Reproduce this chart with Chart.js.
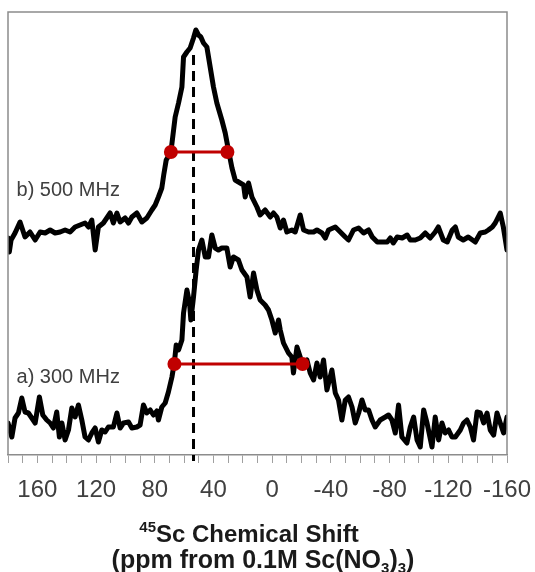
<!DOCTYPE html>
<html><head><meta charset="utf-8">
<script src="https://cdn.jsdelivr.net/npm/chart.js@4/dist/chart.umd.min.js"></script>
<style>html,body{margin:0;padding:0;background:#fff}#wrap{width:535px;height:572px}</style>
</head><body><div id="wrap"><canvas id="c" width="535" height="572"></canvas></div>
<script>
// b) 500 MHz spectrum
const ppm500 = [180,179.1,177.9,175.2,171.8,168.4,165.0,161.5,158.1,154.7,
151.3,147.9,144.5,141.1,137.7,134.3,130.9,127.5,125.2,122.9,
120.6,118.4,115.0,112.7,110.4,108.2,105.8,103.6,100.2,97.9,
95.6,92.2,88.8,85.4,82.0,79.7,77.5,75.2,73.9,72.2,
69.0,66.1,63.8,61.5,60.4,58.1,55.9,53.6,52.0,50.2,
48.6,46.8,44.5,42.7,40.0,37.7,34.3,32.0,29.8,27.4,
25.2,21.8,19.5,18.4,16.1,13.8,10.4,8.2,4.8,1.3,
-0.9,-3.2,-5.5,-7.7,-10.0,-13.4,-15.7,-19.1,-21.4,-24.8,
-28.2,-30.5,-33.9,-36.2,-38.4,-43.0,-46.4,-49.8,-52.0,-55.4,
-58.9,-62.3,-65.7,-68.2,-71.6,-75.0,-78.4,-80.5,-82.5,-85.2,
-88.6,-92.0,-94.1,-97.5,-100.9,-104.3,-107.7,-111.1,-113.2,-116.6,
-119.3,-122.7,-124.8,-126.8,-130.2,-133.6,-138.4,-141.8,-145.2,-147.3,
-150.0,-152.0,-155.4,-157.5,-160];
const int500 = [217,203,215,222,233,218,223,215,223,222,
225,222,223,225,223,228,230,232,228,235,
205,228,232,237,242,232,242,233,237,232,
238,242,233,237,245,250,258,267,280,295,
303,338,352,368,398,403,407,417,425,420,
418,412,408,392,368,352,335,322,305,287,
275,272,270,258,272,258,248,240,245,238,
242,238,227,235,223,225,223,240,225,223,
223,225,222,217,225,228,223,218,215,225,
227,222,225,218,213,213,213,217,212,218,
217,220,215,215,217,222,217,223,228,215,
213,225,228,218,215,218,213,222,223,225,
228,232,242,228,205];

// a) 300 MHz spectrum
const ppm300 = [180,177.4,175.2,172.9,170.6,168.4,166.1,163.8,161.5,158.6,
156.3,153.6,151.3,149.1,146.8,145.0,143.3,141.1,138.8,136.5,
134.3,132.0,129.7,127.5,125.2,122.9,120.6,118.4,116.1,113.8,
111.6,108.2,105.8,103.6,101.3,97.9,95.6,92.2,90.0,87.7,
85.4,83.1,80.9,78.6,77.5,75.2,72.9,70.7,68.3,66.6,
65.4,63.8,61.5,60.4,58.1,56.3,55.4,53.6,51.8,50.2,
47.9,45.6,43.4,41.1,38.8,36.6,34.3,30.9,28.6,26.4,
23.0,20.6,17.2,15.0,12.7,10.4,8.2,4.8,2.5,0.2,
-2.1,-4.3,-5.5,-7.7,-11.1,-13.4,-14.5,-16.9,-19.1,-20.7,
-23.7,-25.9,-28.2,-30.5,-32.7,-35.0,-37.3,-40.7,-43.0,-45.2,
-47.5,-49.8,-52.0,-54.4,-56.6,-58.9,-61.2,-63.4,-65.7,-68.0,
-70.2,-73.6,-77.1,-79.3,-81.6,-83.9,-86.1,-88.4,-91.8,-94.1,
-96.4,-98.7,-100.9,-103.2,-105.5,-108.9,-111.1,-113.4,-115.7,-117.9,
-120.2,-122.5,-124.8,-128.2,-130.4,-132.7,-135.0,-137.2,-139.6,-141.8,
-144.1,-146.4,-148.6,-150.9,-153.2,-155.4,-157.7,-160];
const int300 = [32,18,37,42,57,43,42,37,32,58,
40,35,32,27,43,18,32,15,25,47,
38,50,35,18,15,22,27,13,25,23,
28,28,42,27,32,33,27,28,30,50,
42,45,40,44,35,48,52,63,78,93,
110,105,115,142,165,152,135,158,185,205,
215,198,198,220,207,205,207,207,188,198,
195,185,178,158,182,165,155,150,145,135,
122,135,125,112,102,98,82,108,98,91,
95,82,75,92,78,95,65,85,62,55,
35,55,58,48,32,42,55,45,45,35,
28,35,38,40,35,22,50,18,12,28,
38,15,8,45,32,8,38,15,32,22,
25,18,18,25,32,35,28,15,43,42,
32,42,25,20,42,32,22,38];

// FWHM markers: [ppm left, ppm right], intensity level
const fwhm500 = [69.0, 30.5];
const fwhmLevel500 = 303;
const fwhm300 = [66.6, -20.7];
const fwhmLevel300 = 91;

// reference position (dashed line)
const refShift = 53.6;
const refSpan = [400, -6];

const xTickLabels = [160,120,80,40,0,-40,-80,-120,-160];
const seriesNames = ['b) 500 MHz', 'a) 300 MHz'];
const seriesNamePos = [[174.2, 259], [174.2, 72]];

const pts = (xs, ys) => xs.map((x, i) => ({x: x, y: ys[i]}));

const overlay = {
  id: 'overlay',
  afterDatasetsDraw(chart) {
    const ctx = chart.ctx, a = chart.chartArea;
    const sx = chart.scales.x, sy = chart.scales.y;
    ctx.save();
    ctx.strokeStyle = '#8c8c8c';
    ctx.lineWidth = 1.5;
    ctx.beginPath();
    ctx.moveTo(a.left, a.bottom); ctx.lineTo(a.left, a.top);
    ctx.lineTo(a.right, a.top); ctx.lineTo(a.right, a.bottom);
    ctx.stroke();
    ctx.fillStyle = '#404040';
    ctx.font = '20px "Liberation Sans", Arial, sans-serif';
    ctx.textAlign = 'left'; ctx.textBaseline = 'alphabetic';
    seriesNames.forEach((n, i) => {
      ctx.fillText(n, sx.getPixelForValue(seriesNamePos[i][0]), sy.getPixelForValue(seriesNamePos[i][1]));
    });
    ctx.restore();
  },
  afterDraw(chart) {
    const ctx = chart.ctx;
    ctx.save();
    ctx.fillStyle = '#1a1a1a';
    ctx.textBaseline = 'alphabetic';
    ctx.textAlign = 'left';
    const B = 'bold 24px "Liberation Sans", Arial, sans-serif';
    const B2 = 'bold 25px "Liberation Sans", Arial, sans-serif';
    const S = 'bold 15px "Liberation Sans", Arial, sans-serif';
    const drawRuns = (runs, cx, base) => {
      let tot = 0;
      runs.forEach(r => { ctx.font = r.f; r.w = ctx.measureText(r.t).width; tot += r.w; });
      let x = cx - tot / 2;
      runs.forEach(r => { ctx.font = r.f; ctx.fillText(r.t, x, base + (r.dy || 0)); x += r.w; });
    };
    drawRuns([{t:'45', f:S, dy:-10}, {t:'Sc Chemical Shift', f:B}], 249, 542);
    drawRuns([{t:'(ppm from 0.1M Sc(NO', f:B2}, {t:'3', f:S, dy:5}, {t:')', f:B2}, {t:'3', f:S, dy:5}, {t:')', f:B2}], 263, 568);
    ctx.restore();
  }
};

new Chart(document.getElementById('c'), {
  type: 'line',
  data: {
    datasets: [
      {data: pts(fwhm500, [fwhmLevel500, fwhmLevel500]), borderColor:'#c00000', backgroundColor:'#c00000', borderWidth:3, pointRadius:7, pointBorderWidth:0, order:0},
      {data: pts(fwhm300, [fwhmLevel300, fwhmLevel300]), borderColor:'#c00000', backgroundColor:'#c00000', borderWidth:3, pointRadius:7, pointBorderWidth:0, order:0},
      {data: pts([refShift, refShift], refSpan), borderColor:'#000', borderWidth:3, borderDash:[10,6], pointRadius:0, clip:false, order:1},
      {data: pts(ppm500, int500), borderColor:'#000', borderWidth:5, pointRadius:0, borderJoinStyle:'round', borderCapStyle:'round', order:2},
      {data: pts(ppm300, int300), borderColor:'#000', borderWidth:5, pointRadius:0, borderJoinStyle:'round', borderCapStyle:'round', order:2}
    ]
  },
  options: {
    responsive: false, animation: false, devicePixelRatio: 1,
    layout: {padding: {left: 8, right: 28, top: 12, bottom: 0}},
    plugins: {legend: {display: false}, tooltip: {enabled: false}},
    scales: {
      x: {
        type: 'linear', min: -160, max: 180, reverse: true,
        afterFit: s => { s.height = 117; s.paddingLeft = 0; s.paddingRight = 0; },
        ticks: {
          stepSize: 10, autoSkip: false, maxRotation: 0, minRotation: 0, padding: 13,
          color: '#404040', font: {family: '"Liberation Sans", Arial, sans-serif', size: 24},
          callback: v => xTickLabels.includes(Math.round(v)) ? String(Math.round(v)) : ''
        },
        grid: {drawOnChartArea: false, drawTicks: true, tickLength: 8, color: '#a0a0a0', lineWidth: 1},
        border: {display: true, color: '#8c8c8c', width: 1.5}
      },
      y: {type: 'linear', min: 0, max: 443, display: false}
    }
  },
  plugins: [overlay]
});
</script>
</body></html>
